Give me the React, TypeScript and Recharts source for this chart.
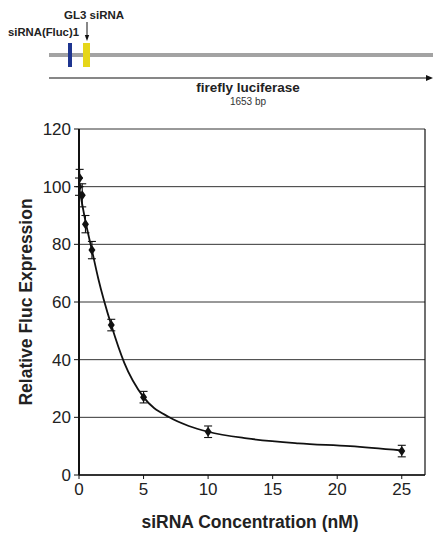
import React from 'react'
import {
  ComposedChart,
  Scatter,
  Line,
  XAxis,
  YAxis,
  CartesianGrid,
  ErrorBar,
  ReferenceLine,
} from 'recharts'

// measured points (nM, % expression, error)
const concentrations = [0, 0.05, 0.25, 0.5, 1, 2.5, 5, 10, 25]
const expression = [100, 103, 97, 87, 78, 52, 27, 15, 8.3]
const errors = [3, 3, 4, 3, 3, 2, 2, 2, 2]

// fitted curve
const curveX = [0, 0.5, 1, 1.5, 2.5, 3.5, 5, 7, 8.5, 10, 13, 17, 21, 25]
const curveY = [100, 88, 78, 68, 52, 39, 27, 20, 17, 15, 12.7, 11, 10, 8.5]

const xTicks = [0, 5, 10, 15, 20, 25]
const yTicks = [0, 20, 40, 60, 80, 100, 120]

const points = concentrations.map((x, i) => ({ x, y: expression[i], err: errors[i] }))
const curve = curveX.map((x, i) => ({ x, y: curveY[i] }))

const FONT = 'Liberation Sans, Arial, Helvetica, sans-serif'

function Diamond(props: any) {
  const { cx, cy } = props
  if (cx == null || cy == null) return null
  return (
    <polygon
      points={`${cx},${cy - 5} ${cx + 3.5},${cy} ${cx},${cy + 5} ${cx - 3.5},${cy}`}
      fill="#111"
    />
  )
}

function GeneMap() {
  return (
    <svg width={433} height={110} style={{ position: 'absolute', left: 0, top: 0 }}>
      <text x={64} y={19} fontFamily={FONT} fontWeight="bold" fontSize={11.5} fill="#222">GL3 siRNA</text>
      <line x1={87} y1={22} x2={87} y2={38} stroke="#111" strokeWidth={1} />
      <path d="M84.8,35 L87,41 L89.2,35 z" fill="#111" />
      <text x={8} y={36} fontFamily={FONT} fontWeight="bold" fontSize={11.3} fill="#222">siRNA(Fluc)1</text>
      <line x1={49} y1={55} x2={433} y2={55} stroke="#a3a3a3" strokeWidth={4} />
      <rect x={68} y={43} width={4} height={24} fill="#1f3590" />
      <rect x={83} y={43} width={7} height={24} fill="#e6d619" />
      <line x1={49} y1={78} x2={428} y2={78} stroke="#111" strokeWidth={1.2} />
      <path d="M426,75 L433,78 L426,81 z" fill="#111" />
      <text x={248} y={92} textAnchor="middle" fontFamily={FONT} fontWeight="bold" fontSize={13.5} fill="#222">firefly luciferase</text>
      <text x={248} y={104.5} textAnchor="middle" fontFamily={FONT} fontSize={10} fill="#333">1653 bp</text>
    </svg>
  )
}

export default function App() {
  return (
    <div style={{ position: 'absolute', left: 0, top: 0, width: 433, height: 536, background: '#fff' }}>
      <GeneMap />
      <div style={{ position: 'absolute', left: 0, top: 0 }}>
        <ComposedChart width={433} height={536} margin={{ top: 129, right: 8, bottom: 31, left: 0 }}>
          <CartesianGrid vertical={false} stroke="#333" strokeWidth={1} />
          <XAxis
            type="number"
            dataKey="x"
            domain={[0, 26.8]}
            ticks={xTicks}
            allowDataOverflow
            tick={{ fontSize: 17, fill: '#222', fontFamily: FONT }}
            tickLine={{ stroke: '#111' }}
            tickSize={4}
            tickMargin={4}
            axisLine={{ stroke: '#111', strokeWidth: 1.5 }}
            height={30}
          />
          <YAxis
            type="number"
            domain={[0, 120]}
            ticks={yTicks}
            width={79}
            tick={{ fontSize: 17, fill: '#222', fontFamily: FONT }}
            tickLine={{ stroke: '#111' }}
            tickSize={5}
            tickMargin={3}
            axisLine={{ stroke: '#111', strokeWidth: 2 }}
          />
          <ReferenceLine x={26.8} stroke="#111" strokeWidth={1.2} />
          <Line
            data={curve}
            dataKey="y"
            type="monotone"
            stroke="#111"
            strokeWidth={1.8}
            dot={false}
            isAnimationActive={false}
          />
          <Scatter data={points} dataKey="y" shape={<Diamond />} isAnimationActive={false}>
            <ErrorBar dataKey="err" direction="y" width={4} stroke="#111" strokeWidth={1.1} />
          </Scatter>
        </ComposedChart>
      </div>
      <svg width={433} height={536} style={{ position: 'absolute', left: 0, top: 0, pointerEvents: 'none' }}>
        <text
          x={0}
          y={0}
          transform="translate(32,302) rotate(-90)"
          textAnchor="middle"
          fontFamily={FONT}
          fontWeight="bold"
          fontSize={17.5}
          fill="#222"
        >
          Relative Fluc Expression
        </text>
        <text x={250} y={528} textAnchor="middle" fontFamily={FONT} fontWeight="bold" fontSize={17.5} fill="#222">
          siRNA Concentration (nM)
        </text>
      </svg>
    </div>
  )
}
